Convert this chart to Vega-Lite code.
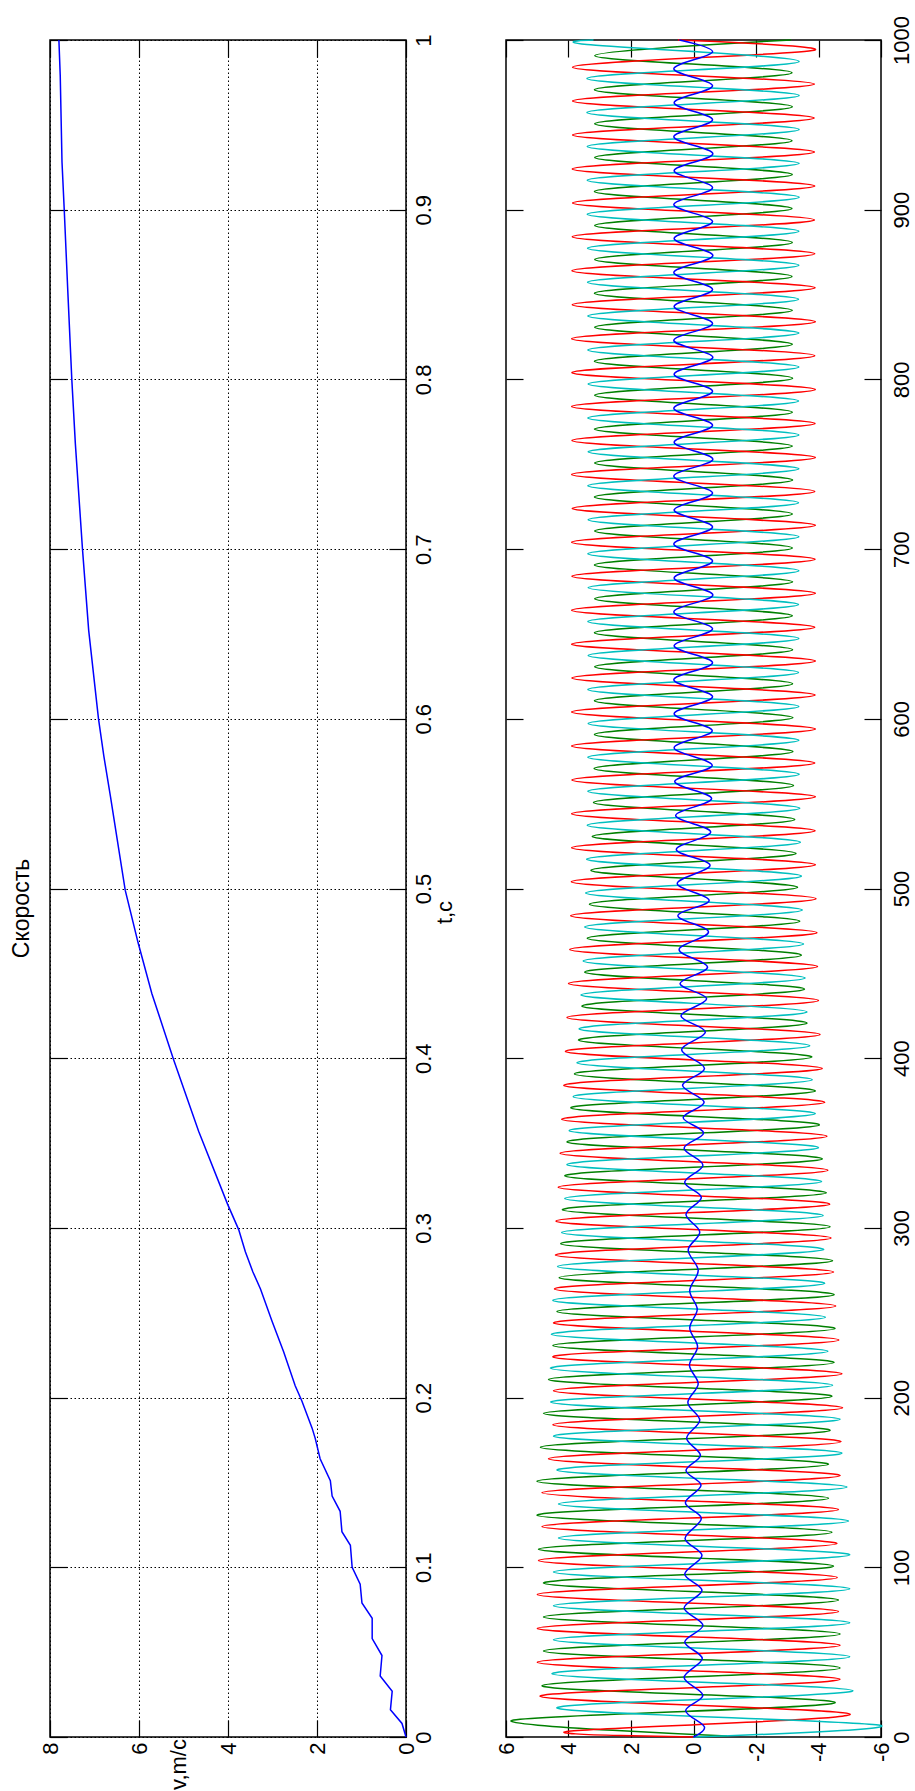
{
"$schema": "https://vega.github.io/schema/vega-lite/v6.json",
"background": "white",
"padding": {"left": 10, "top": 14, "right": 0, "bottom": 0},
"config": {
  "font": "Liberation Sans",
  "view": {"stroke": "black", "strokeWidth": 1.5},
  "axis": {"domain": false, "tickColor": "black", "tickWidth": 1.2, "tickSize": -17, "labelColor": "black", "labelFontSize": 22, "labelFont": "Liberation Sans", "titleColor": "black", "titleFontSize": 22, "titleFontWeight": "normal", "titleFont": "Liberation Sans", "gridColor": "black", "gridDash": [1.5, 2.5], "gridWidth": 1, "gridOpacity": 1, "labelOverlap": false, "labelFlush": false, "labelBound": false}
},
"datasets": {
"speed": [
{"t":0,"v":0},{"t":0.008,"v":0.09},{"t":0.016,"v":0.35},{"t":0.027,"v":0.31},{"t":0.036,"v":0.58},{"t":0.048,"v":0.54},{"t":0.058,"v":0.76},{"t":0.07,"v":0.76},{"t":0.079,"v":0.99},{"t":0.09,"v":1.03},{"t":0.1,"v":1.21},{"t":0.113,"v":1.25},{"t":0.121,"v":1.44},{"t":0.133,"v":1.48},{"t":0.142,"v":1.66},{"t":0.151,"v":1.7},{"t":0.164,"v":1.93},{"t":0.176,"v":2.04},{"t":0.182,"v":2.11},{"t":0.198,"v":2.34},{"t":0.207,"v":2.49},{"t":0.227,"v":2.75},{"t":0.245,"v":3.01},{"t":0.264,"v":3.27},{"t":0.274,"v":3.44},{"t":0.286,"v":3.61},{"t":0.299,"v":3.76},{"t":0.314,"v":4.01},{"t":0.357,"v":4.66},{"t":0.399,"v":5.22},{"t":0.438,"v":5.71},{"t":0.468,"v":6.02},{"t":0.499,"v":6.31},{"t":0.529,"v":6.49},{"t":0.554,"v":6.64},{"t":0.578,"v":6.79},{"t":0.6,"v":6.91},{"t":0.652,"v":7.13},{"t":0.7,"v":7.27},{"t":0.762,"v":7.43},{"t":0.8,"v":7.51},{"t":0.852,"v":7.6},{"t":0.9,"v":7.68},{"t":0.928,"v":7.73},{"t":0.979,"v":7.77},{"t":1,"v":7.8}
],
"ph": [
{"s":"r","n":0,"v":0},
{"s":"r","n":3.3,"v":4.05},{"s":"r","n":13.4,"v":-5.01},
{"s":"r","n":24,"v":4.91},{"s":"r","n":34,"v":-4.69},
{"s":"r","n":44,"v":5.0},{"s":"r","n":54,"v":-4.69},
{"s":"r","n":64,"v":5.0},{"s":"r","n":74,"v":-4.64},
{"s":"r","n":84,"v":5.0},{"s":"r","n":94,"v":-4.6},
{"s":"r","n":104,"v":4.96},{"s":"r","n":114,"v":-4.59},
{"s":"r","n":124,"v":4.85},{"s":"r","n":134,"v":-4.64},
{"s":"r","n":144,"v":4.85},{"s":"r","n":154,"v":-4.69},
{"s":"r","n":164,"v":4.64},{"s":"r","n":174,"v":-4.72},
{"s":"r","n":184,"v":4.5},{"s":"r","n":194,"v":-4.77},
{"s":"r","n":204,"v":4.48},{"s":"r","n":214,"v":-4.75},
{"s":"r","n":224,"v":4.5},{"s":"r","n":234,"v":-4.65},
{"s":"r","n":244,"v":4.48},{"s":"r","n":254,"v":-4.55},
{"s":"r","n":264,"v":4.45},{"s":"r","n":274,"v":-4.48},
{"s":"r","n":284,"v":4.42},{"s":"r","n":294,"v":-4.4},
{"s":"r","n":304,"v":4.4},{"s":"r","n":314,"v":-4.36},
{"s":"r","n":324,"v":4.33},{"s":"r","n":334,"v":-4.3},
{"s":"r","n":344,"v":4.27},{"s":"r","n":354,"v":-4.27},
{"s":"r","n":364,"v":4.22},{"s":"r","n":374,"v":-4.2},
{"s":"r","n":384,"v":4.15},{"s":"r","n":394,"v":-4.12},
{"s":"r","n":404,"v":4.1},{"s":"r","n":414,"v":-4.05},
{"s":"r","n":424,"v":4.05},{"s":"r","n":434,"v":-4.0},
{"s":"r","n":444,"v":4.0},{"s":"r","n":454,"v":-3.97},
{"s":"r","n":464,"v":3.96},{"s":"r","n":474,"v":-3.95},
{"s":"r","n":484,"v":3.93},{"s":"r","n":494,"v":-3.92},
{"s":"r","n":504,"v":3.91},{"s":"r","n":514,"v":-3.9},
{"s":"r","n":524,"v":3.9},{"s":"r","n":534,"v":-3.89},
{"s":"r","n":544,"v":3.9},{"s":"r","n":554,"v":-3.9},
{"s":"r","n":564,"v":3.89},{"s":"r","n":574,"v":-3.88},
{"s":"r","n":584,"v":3.9},{"s":"r","n":594,"v":-3.9},
{"s":"r","n":604,"v":3.9},{"s":"r","n":614,"v":-3.89},
{"s":"r","n":624,"v":3.89},{"s":"r","n":634,"v":-3.9},
{"s":"r","n":644,"v":3.9},{"s":"r","n":654,"v":-3.88},
{"s":"r","n":664,"v":3.9},{"s":"r","n":674,"v":-3.9},
{"s":"r","n":684,"v":3.89},{"s":"r","n":694,"v":-3.89},
{"s":"r","n":704,"v":3.9},{"s":"r","n":714,"v":-3.9},
{"s":"r","n":724,"v":3.88},{"s":"r","n":734,"v":-3.88},
{"s":"r","n":744,"v":3.9},{"s":"r","n":754,"v":-3.9},
{"s":"r","n":764,"v":3.89},{"s":"r","n":774,"v":-3.89},
{"s":"r","n":784,"v":3.9},{"s":"r","n":794,"v":-3.9},
{"s":"r","n":804,"v":3.89},{"s":"r","n":814,"v":-3.88},
{"s":"r","n":824,"v":3.9},{"s":"r","n":834,"v":-3.9},
{"s":"r","n":844,"v":3.88},{"s":"r","n":854,"v":-3.89},
{"s":"r","n":864,"v":3.89},{"s":"r","n":874,"v":-3.88},
{"s":"r","n":884,"v":3.88},{"s":"r","n":894,"v":-3.87},
{"s":"r","n":904,"v":3.87},{"s":"r","n":914,"v":-3.88},
{"s":"r","n":924,"v":3.88},{"s":"r","n":934,"v":-3.87},
{"s":"r","n":944,"v":3.87},{"s":"r","n":954,"v":-3.86},
{"s":"r","n":964,"v":3.87},{"s":"r","n":974,"v":-3.87},
{"s":"r","n":984,"v":3.87},{"s":"r","n":994,"v":-3.86},
{"s":"r","n":1000,"v":0.5},
{"s":"g","n":0.6,"v":-1.07},
{"s":"g","n":9.8,"v":5.81},{"s":"g","n":20.2,"v":-4.53},
{"s":"g","n":30.2,"v":4.85},{"s":"g","n":40.7,"v":-4.69},
{"s":"g","n":50.7,"v":4.8},{"s":"g","n":60.7,"v":-4.69},
{"s":"g","n":70.7,"v":4.8},{"s":"g","n":80.7,"v":-4.64},
{"s":"g","n":90.7,"v":4.8},{"s":"g","n":100.7,"v":-4.48},
{"s":"g","n":110.7,"v":4.96},{"s":"g","n":120.7,"v":-4.43},
{"s":"g","n":130.7,"v":5.01},{"s":"g","n":140.7,"v":-4.32},
{"s":"g","n":150.7,"v":5.01},{"s":"g","n":160.7,"v":-4.32},
{"s":"g","n":170.7,"v":4.9},{"s":"g","n":180.7,"v":-4.37},
{"s":"g","n":190.7,"v":4.8},{"s":"g","n":200.7,"v":-4.43},
{"s":"g","n":210.7,"v":4.64},{"s":"g","n":220.7,"v":-4.5},
{"s":"g","n":230.7,"v":4.5},{"s":"g","n":240.7,"v":-4.53},
{"s":"g","n":250.7,"v":4.37},{"s":"g","n":260.7,"v":-4.5},
{"s":"g","n":270.7,"v":4.3},{"s":"g","n":280.7,"v":-4.45},
{"s":"g","n":290.7,"v":4.25},{"s":"g","n":300.7,"v":-4.37},
{"s":"g","n":310.7,"v":4.2},{"s":"g","n":320.7,"v":-4.25},
{"s":"g","n":330.7,"v":4.12},{"s":"g","n":340.7,"v":-4.12},
{"s":"g","n":350.7,"v":4.05},{"s":"g","n":360.7,"v":-4.03},
{"s":"g","n":370.7,"v":3.93},{"s":"g","n":380.7,"v":-3.9},
{"s":"g","n":390.7,"v":3.81},{"s":"g","n":400.7,"v":-3.79},
{"s":"g","n":410.7,"v":3.68},{"s":"g","n":420.7,"v":-3.63},
{"s":"g","n":430.7,"v":3.57},{"s":"g","n":440.7,"v":-3.55},
{"s":"g","n":450.7,"v":3.48},{"s":"g","n":460.7,"v":-3.45},
{"s":"g","n":470.7,"v":3.4},{"s":"g","n":480.7,"v":-3.4},
{"s":"g","n":490.7,"v":3.33},{"s":"g","n":500.7,"v":-3.33},
{"s":"g","n":510.7,"v":3.28},{"s":"g","n":520.7,"v":-3.28},
{"s":"g","n":530.7,"v":3.24},{"s":"g","n":540.7,"v":-3.24},
{"s":"g","n":550.7,"v":3.2},{"s":"g","n":560.7,"v":-3.2},
{"s":"g","n":570.7,"v":3.18},{"s":"g","n":580.7,"v":-3.18},
{"s":"g","n":590.7,"v":3.17},{"s":"g","n":600.7,"v":-3.18},
{"s":"g","n":610.7,"v":3.17},{"s":"g","n":620.7,"v":-3.17},
{"s":"g","n":630.7,"v":3.16},{"s":"g","n":640.7,"v":-3.17},
{"s":"g","n":650.7,"v":3.17},{"s":"g","n":660.7,"v":-3.16},
{"s":"g","n":670.7,"v":3.16},{"s":"g","n":680.7,"v":-3.17},
{"s":"g","n":690.7,"v":3.17},{"s":"g","n":700.7,"v":-3.16},
{"s":"g","n":710.7,"v":3.16},{"s":"g","n":720.7,"v":-3.16},
{"s":"g","n":730.7,"v":3.17},{"s":"g","n":740.7,"v":-3.17},
{"s":"g","n":750.7,"v":3.16},{"s":"g","n":760.7,"v":-3.16},
{"s":"g","n":770.7,"v":3.17},{"s":"g","n":780.7,"v":-3.16},
{"s":"g","n":790.7,"v":3.16},{"s":"g","n":800.7,"v":-3.17},
{"s":"g","n":810.7,"v":3.17},{"s":"g","n":820.7,"v":-3.16},
{"s":"g","n":830.7,"v":3.16},{"s":"g","n":840.7,"v":-3.16},
{"s":"g","n":850.7,"v":3.17},{"s":"g","n":860.7,"v":-3.15},
{"s":"g","n":870.7,"v":3.16},{"s":"g","n":880.7,"v":-3.16},
{"s":"g","n":890.7,"v":3.16},{"s":"g","n":900.7,"v":-3.15},
{"s":"g","n":910.7,"v":3.17},{"s":"g","n":920.7,"v":-3.16},
{"s":"g","n":930.7,"v":3.16},{"s":"g","n":940.7,"v":-3.15},
{"s":"g","n":950.7,"v":3.16},{"s":"g","n":960.7,"v":-3.16},
{"s":"g","n":970.7,"v":3.17},{"s":"g","n":980.7,"v":-3.15},
{"s":"g","n":990.7,"v":3.16},{"s":"g","n":1000,"v":-3.12},
{"s":"c","n":0,"v":0},
{"s":"c","n":6.9,"v":-5.97},{"s":"c","n":17.1,"v":4.37},
{"s":"c","n":27.3,"v":-5.1},{"s":"c","n":37.3,"v":4.53},
{"s":"c","n":47.3,"v":-5.0},{"s":"c","n":57.3,"v":4.48},
{"s":"c","n":67.3,"v":-5.0},{"s":"c","n":77.3,"v":4.48},
{"s":"c","n":87.3,"v":-5.0},{"s":"c","n":97.3,"v":4.48},
{"s":"c","n":107.3,"v":-5.0},{"s":"c","n":117.3,"v":4.32},
{"s":"c","n":127.3,"v":-4.96},{"s":"c","n":137.3,"v":4.32},
{"s":"c","n":147.3,"v":-4.91},{"s":"c","n":157.3,"v":4.37},
{"s":"c","n":167.3,"v":-4.75},{"s":"c","n":177.3,"v":4.48},
{"s":"c","n":187.3,"v":-4.69},{"s":"c","n":197.3,"v":4.57},
{"s":"c","n":207.3,"v":-4.45},{"s":"c","n":217.3,"v":4.58},
{"s":"c","n":227.3,"v":-4.3},{"s":"c","n":237.3,"v":4.55},
{"s":"c","n":247.3,"v":-4.22},{"s":"c","n":257.3,"v":4.5},
{"s":"c","n":267.3,"v":-4.2},{"s":"c","n":277.3,"v":4.35},
{"s":"c","n":287.3,"v":-4.17},{"s":"c","n":297.3,"v":4.22},
{"s":"c","n":307.3,"v":-4.15},{"s":"c","n":317.3,"v":4.12},
{"s":"c","n":327.3,"v":-4.1},{"s":"c","n":337.3,"v":4.05},
{"s":"c","n":347.3,"v":-4.0},{"s":"c","n":357.3,"v":3.98},
{"s":"c","n":367.3,"v":-3.9},{"s":"c","n":377.3,"v":3.85},
{"s":"c","n":387.3,"v":-3.8},{"s":"c","n":397.3,"v":3.73},
{"s":"c","n":407.3,"v":-3.72},{"s":"c","n":417.3,"v":3.66},
{"s":"c","n":427.3,"v":-3.63},{"s":"c","n":437.3,"v":3.6},
{"s":"c","n":447.3,"v":-3.57},{"s":"c","n":457.3,"v":3.53},
{"s":"c","n":467.3,"v":-3.52},{"s":"c","n":477.3,"v":3.48},
{"s":"c","n":487.3,"v":-3.48},{"s":"c","n":497.3,"v":3.45},
{"s":"c","n":507.3,"v":-3.45},{"s":"c","n":517.3,"v":3.42},
{"s":"c","n":527.3,"v":-3.42},{"s":"c","n":537.3,"v":3.4},
{"s":"c","n":547.3,"v":-3.4},{"s":"c","n":557.3,"v":3.38},
{"s":"c","n":567.3,"v":-3.38},{"s":"c","n":577.3,"v":3.38},
{"s":"c","n":587.3,"v":-3.37},{"s":"c","n":597.3,"v":3.37},
{"s":"c","n":607.3,"v":-3.37},{"s":"c","n":617.3,"v":3.38},
{"s":"c","n":627.3,"v":-3.36},{"s":"c","n":637.3,"v":3.37},
{"s":"c","n":647.3,"v":-3.37},{"s":"c","n":657.3,"v":3.38},
{"s":"c","n":667.3,"v":-3.36},{"s":"c","n":677.3,"v":3.37},
{"s":"c","n":687.3,"v":-3.37},{"s":"c","n":697.3,"v":3.38},
{"s":"c","n":707.3,"v":-3.37},{"s":"c","n":717.3,"v":3.37},
{"s":"c","n":727.3,"v":-3.36},{"s":"c","n":737.3,"v":3.38},
{"s":"c","n":747.3,"v":-3.37},{"s":"c","n":757.3,"v":3.37},
{"s":"c","n":767.3,"v":-3.37},{"s":"c","n":777.3,"v":3.38},
{"s":"c","n":787.3,"v":-3.36},{"s":"c","n":797.3,"v":3.37},
{"s":"c","n":807.3,"v":-3.37},{"s":"c","n":817.3,"v":3.38},
{"s":"c","n":827.3,"v":-3.37},{"s":"c","n":837.3,"v":3.38},
{"s":"c","n":847.3,"v":-3.36},{"s":"c","n":857.3,"v":3.39},
{"s":"c","n":867.3,"v":-3.37},{"s":"c","n":877.3,"v":3.39},
{"s":"c","n":887.3,"v":-3.37},{"s":"c","n":897.3,"v":3.4},
{"s":"c","n":907.3,"v":-3.38},{"s":"c","n":917.3,"v":3.4},
{"s":"c","n":927.3,"v":-3.38},{"s":"c","n":937.3,"v":3.4},
{"s":"c","n":947.3,"v":-3.38},{"s":"c","n":957.3,"v":3.41},
{"s":"c","n":967.3,"v":-3.38},{"s":"c","n":977.3,"v":3.41},
{"s":"c","n":987.3,"v":-3.38},{"s":"c","n":997.3,"v":3.41},
{"s":"c","n":1000,"v":3.2},
{"s":"b","n":0,"v":0},{"s":"b","n":5.9,"v":-0.35},{"s":"b","n":15.5,"v":0.25},{"s":"b","n":24.6,"v":-0.3},{"s":"b","n":35,"v":0.3},{"s":"b","n":46.2,"v":-0.28},{"s":"b","n":56,"v":0.28},{"s":"b","n":65.8,"v":-0.3},{"s":"b","n":76,"v":0.3},{"s":"b","n":86.4,"v":-0.27},{"s":"b","n":96,"v":0.28},{"s":"b","n":107,"v":-0.27},{"s":"b","n":117,"v":0.27},{"s":"b","n":128.7,"v":-0.25},{"s":"b","n":138,"v":0.26},{"s":"b","n":148.3,"v":-0.24},{"s":"b","n":157,"v":0.24},{"s":"b","n":166,"v":-0.22},{"s":"b","n":176,"v":0.22},{"s":"b","n":186.6,"v":-0.2},{"s":"b","n":197,"v":0.18},{"s":"b","n":208,"v":-0.15},{"s":"b","n":219,"v":0.13},{"s":"b","n":230,"v":-0.13},{"s":"b","n":241,"v":0.12},{"s":"b","n":252,"v":-0.12},{"s":"b","n":263,"v":0.12},{"s":"b","n":275,"v":-0.15},{"s":"b","n":287,"v":0.17},{"s":"b","n":297.6,"v":-0.2},{"s":"b","n":308,"v":0.24},{"s":"b","n":318,"v":-0.25},{"s":"b","n":327,"v":0.28},{"s":"b","n":337,"v":-0.3},{"s":"b","n":347,"v":0.3},{"s":"b","n":356,"v":-0.32},{"s":"b","n":365,"v":0.33},{"s":"b","n":374,"v":-0.34},{"s":"b","n":384,"v":0.35},{"s":"b","n":394,"v":-0.35},{"s":"b","n":405,"v":0.38},{"s":"b","n":415.4,"v":-0.38},{"s":"b","n":425,"v":0.4},{"s":"b","n":435,"v":-0.42},{"s":"b","n":444,"v":0.43},{"s":"b","n":453.7,"v":-0.45},{"s":"b","n":464,"v":0.46},{"s":"b","n":474.4,"v":-0.48},{"s":"b","n":484,"v":0.5},{"s":"b","n":493,"v":-0.5},{"s":"b","n":503,"v":0.52},{"s":"b","n":513.7,"v":-0.53},{"s":"b","n":523,"v":0.55},{"s":"b","n":533.3,"v":-0.55},{"s":"b","n":543,"v":0.57},{"s":"b","n":553,"v":-0.58},{"s":"b","n":563,"v":0.6},{"s":"b","n":572.6,"v":-0.6},{"s":"b","n":583,"v":0.62},{"s":"b","n":593,"v":-0.6},{"s":"b","n":603,"v":0.62},{"s":"b","n":613,"v":-0.61},{"s":"b","n":623,"v":0.63},{"s":"b","n":633,"v":-0.61},{"s":"b","n":643,"v":0.62},{"s":"b","n":653,"v":-0.61},{"s":"b","n":663,"v":0.63},{"s":"b","n":673,"v":-0.62},{"s":"b","n":683,"v":0.62},{"s":"b","n":693,"v":-0.61},{"s":"b","n":703,"v":0.63},{"s":"b","n":713,"v":-0.61},{"s":"b","n":723,"v":0.62},{"s":"b","n":733,"v":-0.61},{"s":"b","n":743,"v":0.63},{"s":"b","n":753,"v":-0.62},{"s":"b","n":763,"v":0.62},{"s":"b","n":773,"v":-0.61},{"s":"b","n":783,"v":0.63},{"s":"b","n":793,"v":-0.61},{"s":"b","n":803,"v":0.62},{"s":"b","n":813,"v":-0.62},{"s":"b","n":823,"v":0.63},{"s":"b","n":833,"v":-0.61},{"s":"b","n":843,"v":0.62},{"s":"b","n":853,"v":-0.61},{"s":"b","n":863,"v":0.63},{"s":"b","n":873,"v":-0.62},{"s":"b","n":883,"v":0.62},{"s":"b","n":893,"v":-0.61},{"s":"b","n":903,"v":0.63},{"s":"b","n":913,"v":-0.61},{"s":"b","n":923,"v":0.62},{"s":"b","n":933,"v":-0.62},{"s":"b","n":943,"v":0.63},{"s":"b","n":953,"v":-0.61},{"s":"b","n":963,"v":0.62},{"s":"b","n":973,"v":-0.61},{"s":"b","n":983,"v":0.63},{"s":"b","n":993,"v":-0.61},{"s":"b","n":1000,"v":0.45}
]
},
"bounds": "flush",
"spacing": 100,
"hconcat": [
{
  "width": 356, "height": 1697,
  "title": {"text": "Скорость", "orient": "left", "anchor": "middle", "fontSize": 23, "fontWeight": "normal", "font": "Liberation Sans", "color": "black", "offset": 5, "dx": -20},
  "data": {"name": "speed"},
  "layer": [
    {"mark": {"type": "line", "color": "#0000ff", "strokeWidth": 1.5},
     "encoding": {
       "x": {"field": "v", "type": "quantitative", "scale": {"domain": [0, 8], "reverse": true, "nice": false, "zero": false},
             "axis": {"orient": "bottom", "values": [0, 2, 4, 6, 8], "grid": true, "labelAngle": -90, "labelAlign": "right", "labelBaseline": "middle", "labelPadding": 22, "labelExpr": "'' + datum.value", "title": "v,m/c", "titleAngle": -90, "titleAlign": "center", "titleBaseline": "alphabetic", "titleX": 135, "titleY": 27}},
       "y": {"field": "t", "type": "quantitative", "scale": {"domain": [0, 1], "nice": false, "zero": false},
             "axis": {"orient": "right", "values": [0, 0.1, 0.2, 0.3, 0.4, 0.5, 0.6, 0.7, 0.8, 0.9, 1], "grid": true, "labelAngle": -90, "labelAlign": "center", "labelBaseline": "top", "labelPadding": 24, "labelExpr": "'' + datum.value", "title": "t,c", "titleAngle": -90, "titleAlign": "center", "titleBaseline": "alphabetic", "titleX": 45, "titleY": 872}},
       "order": {"field": "t", "type": "quantitative"}
     }},
    {"mark": {"type": "point", "opacity": 0},
     "encoding": {
       "x": {"field": "v", "type": "quantitative", "scale": {"domain": [0, 8], "reverse": true, "nice": false, "zero": false},
             "axis": {"orient": "top", "values": [0, 2, 4, 6, 8], "labels": false, "grid": false, "title": null}},
       "y": {"field": "t", "type": "quantitative", "scale": {"domain": [0, 1], "nice": false, "zero": false},
             "axis": {"orient": "left", "values": [0, 0.1, 0.2, 0.3, 0.4, 0.5, 0.6, 0.7, 0.8, 0.9, 1], "labels": false, "grid": false, "title": null}}
     }}
  ],
  "resolve": {"axis": {"x": "independent", "y": "independent"}}
},
{
  "width": 375, "height": 1697,
  "data": {"name": "ph"},
  "layer": [
    {"transform": [{"filter": "datum.s == 'g'"}],
     "mark": {"type": "line", "color": "#008000", "strokeWidth": 1.5, "interpolate": "cardinal"},
     "encoding": {
       "x": {"field": "v", "type": "quantitative", "scale": {"domain": [-6, 6], "reverse": true, "nice": false, "zero": false},
             "axis": {"orient": "bottom", "values": [-6, -4, -2, 0, 2, 4, 6], "grid": false, "labelAngle": -90, "labelAlign": "right", "labelBaseline": "middle", "labelPadding": 22, "labelExpr": "'' + datum.value", "title": null}},
       "y": {"field": "n", "type": "quantitative", "scale": {"domain": [0, 1000], "nice": false, "zero": false},
             "axis": {"orient": "right", "values": [0, 100, 200, 300, 400, 500, 600, 700, 800, 900, 1000], "grid": false, "labelAngle": -90, "labelAlign": "center", "labelBaseline": "top", "labelPadding": 27, "labelExpr": "'' + datum.value", "title": null}},
       "order": {"field": "n", "type": "quantitative"}
     }},
    {"transform": [{"filter": "datum.s == 'r'"}],
     "mark": {"type": "line", "color": "#ff0000", "strokeWidth": 1.5, "interpolate": "cardinal"},
     "encoding": {
       "x": {"field": "v", "type": "quantitative", "axis": null},
       "y": {"field": "n", "type": "quantitative", "axis": null},
       "order": {"field": "n", "type": "quantitative"}
     }},
    {"transform": [{"filter": "datum.s == 'c'"}],
     "mark": {"type": "line", "color": "#00bfbf", "strokeWidth": 1.5, "interpolate": "cardinal"},
     "encoding": {
       "x": {"field": "v", "type": "quantitative", "axis": null},
       "y": {"field": "n", "type": "quantitative", "axis": null},
       "order": {"field": "n", "type": "quantitative"}
     }},
    {"transform": [{"filter": "datum.s == 'b'"}],
     "mark": {"type": "line", "color": "#0000ff", "strokeWidth": 1.5, "interpolate": "cardinal"},
     "encoding": {
       "x": {"field": "v", "type": "quantitative", "axis": null},
       "y": {"field": "n", "type": "quantitative", "axis": null},
       "order": {"field": "n", "type": "quantitative"}
     }},
    {"mark": {"type": "point", "opacity": 0},
     "encoding": {
       "x": {"field": "v", "type": "quantitative", "scale": {"domain": [-6, 6], "reverse": true, "nice": false, "zero": false},
             "axis": {"orient": "top", "values": [-6, -4, -2, 0, 2, 4, 6], "labels": false, "grid": false, "title": null}},
       "y": {"field": "n", "type": "quantitative", "scale": {"domain": [0, 1000], "nice": false, "zero": false},
             "axis": {"orient": "left", "values": [0, 100, 200, 300, 400, 500, 600, 700, 800, 900, 1000], "labels": false, "grid": false, "title": null}}
     }}
  ],
  "resolve": {"axis": {"x": "independent", "y": "independent"}}
}
]
}
